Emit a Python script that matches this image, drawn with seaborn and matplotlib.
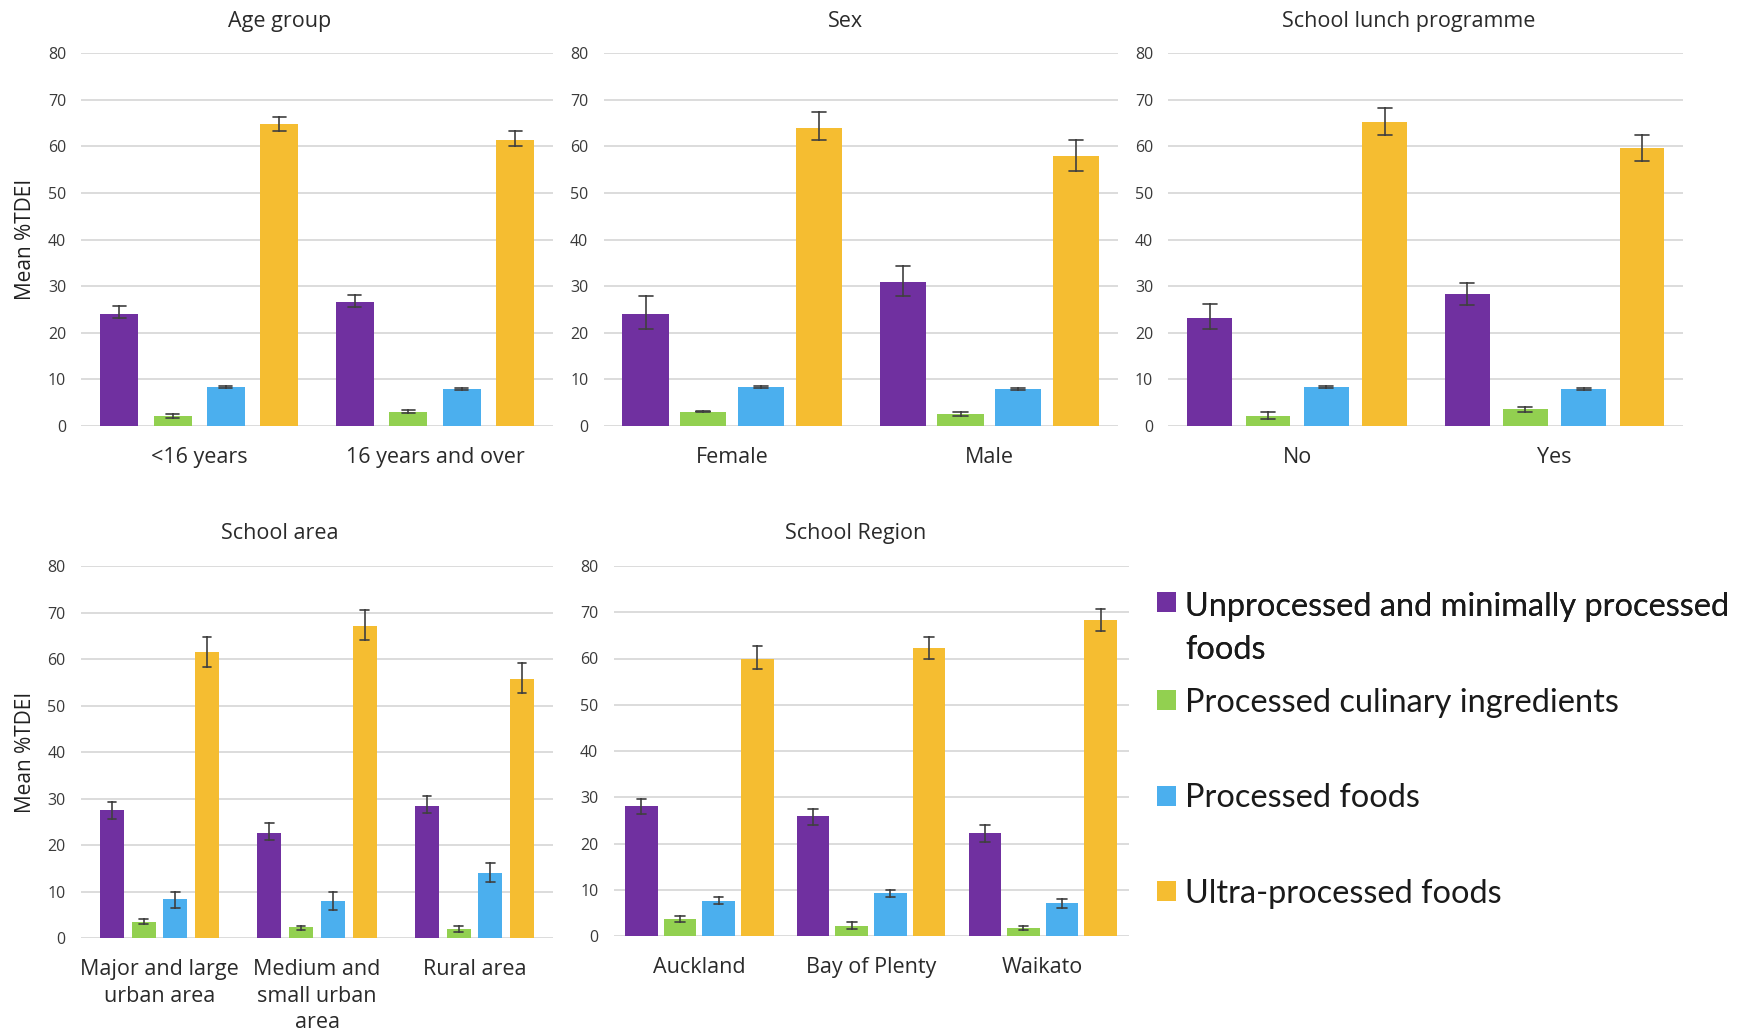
import matplotlib
matplotlib.use("Agg")
import numpy as np
import pandas as pd
import matplotlib.pyplot as plt
import matplotlib.patches as mpatches
from matplotlib.font_manager import FontProperties
import seaborn as sns

# ---------------- data ----------------
series = ["Unprocessed and minimally processed foods",
          "Processed culinary ingredients",
          "Processed foods",
          "Ultra-processed foods"]
legend_labels = ["Unprocessed and minimally processed\nfoods",
                 "Processed culinary ingredients",
                 "Processed foods",
                 "Ultra-processed foods"]
colors = ["#7030A0", "#92D050", "#4BAFEE", "#F5BD31"]

# rows = series (same order as `series`), columns = categories
age_cats = ["<16 years", "16 years and over"]
age_mean = [[24.0, 26.6], [2.2, 3.1], [8.4, 7.9], [64.9, 61.4]]
age_lo   = [[23.1, 25.5], [1.7, 2.7], [8.2, 7.7], [63.4, 60.0]]
age_hi   = [[25.7, 28.2], [2.6, 3.5], [8.6, 8.1], [66.4, 63.4]]

sex_cats = ["Female", "Male"]
sex_mean = [[24.0, 30.9], [3.1, 2.6], [8.4, 7.9], [64.0, 58.0]]
sex_lo   = [[20.8, 27.8], [2.9, 2.1], [8.2, 7.7], [61.3, 54.7]]
sex_hi   = [[27.9, 34.3], [3.3, 3.0], [8.6, 8.1], [67.3, 61.3]]

lunch_cats = ["No", "Yes"]
lunch_mean = [[23.1, 28.4], [2.2, 3.6], [8.4, 7.9], [65.3, 59.7]]
lunch_lo   = [[20.8, 26.0], [1.6, 3.0], [8.2, 7.7], [62.5, 56.8]]
lunch_hi   = [[26.1, 30.8], [3.0, 4.0], [8.6, 8.1], [68.2, 62.5]]

area_cats = ["Major and large urban area", "Medium and small urban area", "Rural area"]
area_ticklabels = ["Major and large\nurban area", "Medium and\nsmall urban\narea", "Rural area"]
area_mean = [[27.6, 22.7, 28.4], [3.6, 2.4, 1.9], [8.5, 8.0, 14.0], [61.5, 67.1, 55.7]]
area_lo   = [[25.6, 21.1, 26.9], [3.1, 1.8, 1.3], [6.5, 6.1, 12.2], [58.2, 64.0, 52.7]]
area_hi   = [[29.2, 24.8, 30.5], [4.1, 2.7, 2.6], [10.0, 10.0, 16.1], [64.8, 70.6, 59.1]]

region_cats = ["Auckland", "Bay of Plenty", "Waikato"]
region_mean = [[28.1, 25.9, 22.3], [3.6, 2.2, 1.8], [7.6, 9.2, 7.1], [60.0, 62.2, 68.3]]
region_lo   = [[26.3, 24.0, 20.4], [3.0, 1.6, 1.3], [6.9, 8.5, 6.1], [57.7, 59.8, 66.0]]
region_hi   = [[29.7, 27.5, 24.1], [4.3, 3.0, 2.2], [8.4, 9.9, 7.9], [62.6, 64.7, 70.8]]

y_ticks = [0, 10, 20, 30, 40, 50, 60, 70, 80]

# ---------------- style ----------------
sns.set_style("white")
plt.rcParams["font.family"] = ["Open Sans", "DejaVu Sans"]

W, H = 1742, 1030
fig = plt.figure(figsize=(W / 100, H / 100), dpi=100)


def px_axes(x0, x1, ytop, ybot):
    return fig.add_axes([x0 / W, 1 - ybot / H, (x1 - x0) / W, (ybot - ytop) / H])


def long_frame(cats, mean, lo, hi):
    rows = []
    for j, s in enumerate(series):
        for i, c in enumerate(cats):
            for v in (lo[j][i], mean[j][i], hi[j][i]):
                rows.append({"category": c, "series": s, "value": v})
    return pd.DataFrame(rows)


panels = [
    dict(title="Age group", cats=age_cats, labels=age_cats, mean=age_mean, lo=age_lo, hi=age_hi,
         box=(81.4, 552.9, 53.3, 426), width=0.906, gap=0.29, title_xy=(280, 27), ylabel=True),
    dict(title="Sex", cats=sex_cats, labels=sex_cats, mean=sex_mean, lo=sex_lo, hi=sex_hi,
         box=(603.6, 1118, 53.3, 426), width=0.898, gap=0.20, title_xy=(845, 27), ylabel=False),
    dict(title="School lunch programme", cats=lunch_cats, labels=lunch_cats, mean=lunch_mean,
         lo=lunch_lo, hi=lunch_hi,
         box=(1168.4, 1683.3, 53.3, 426), width=0.906, gap=0.23, title_xy=(1409, 27), ylabel=False),
    dict(title="School area", cats=area_cats, labels=area_ticklabels, mean=area_mean, lo=area_lo,
         hi=area_hi,
         box=(80.7, 553.3, 566, 938.3), width=0.806, gap=0.24, title_xy=(280, 539), ylabel=True),
    dict(title="School Region", cats=region_cats, labels=region_cats, mean=region_mean,
         lo=region_lo, hi=region_hi,
         box=(613.6, 1128.6, 566, 936), width=0.90, gap=0.155, title_xy=(856, 539), ylabel=False),
]

for p in panels:
    ax = px_axes(*p["box"])
    df = long_frame(p["cats"], p["mean"], p["lo"], p["hi"])
    sns.barplot(data=df, x="category", y="value", hue="series", order=p["cats"],
                hue_order=series, palette=colors, saturation=1, estimator="median",
                errorbar=lambda v: (v.min(), v.max()), capsize=0.22,
                err_kws={"color": "#404040", "linewidth": 1.2},
                width=p["width"], gap=p["gap"], linewidth=0, legend=False, ax=ax)
    ax.set_ylim(0, 80)
    ax.set_xlim(-0.5, len(p["cats"]) - 0.5)
    ax.set_yticks(y_ticks)
    ax.set_yticklabels([str(t) for t in y_ticks])
    ax.set_xticks(range(len(p["cats"])))
    ax.set_xticklabels(p["labels"])
    for t in ax.get_xticklabels():
        t.set_linespacing(1.35)
    ax.tick_params(axis="y", length=0, pad=11, labelsize=11.5, labelcolor="#3a3a3a")
    ax.tick_params(axis="x", length=0, pad=15, labelsize=15.5, labelcolor="#2a2a2a")
    ax.grid(axis="y", color="#D9D9D9", linewidth=1.3)
    ax.set_axisbelow(True)
    for sp in ax.spines.values():
        sp.set_visible(False)
    ax.set_xlabel("")
    if p["ylabel"]:
        ax.set_ylabel("Mean %TDEI", fontsize=15, color="#202020")
        ax.yaxis.set_label_coords(-45 / (p["box"][1] - p["box"][0]), 0.5)
    else:
        ax.set_ylabel("")
    fig.text(p["title_xy"][0] / W, 1 - p["title_xy"][1] / H, p["title"], ha="center",
             va="baseline", fontsize=15.5, color="#2a2a2a")

# ---------------- legend ----------------
handles = [mpatches.Patch(facecolor=c, edgecolor="none") for c in colors]
lprop = FontProperties(family=["Lato", "DejaVu Sans"], size=23.4)
common = dict(loc="upper left", frameon=False, borderpad=0, borderaxespad=0,
              handlelength=0.585, handleheight=0.555, handletextpad=0.28, prop=lprop)

legA = fig.legend(handles[:1], legend_labels[:1], bbox_to_anchor=(1157 / W, 1 - 592 / H), **common)
for t in legA.get_texts():
    t.set_linespacing(1.55)
    t.set_color("#1a1a1a")
try:
    for col in legA._legend_handle_box.get_children():
        for item in col.get_children():
            item.align = "top"
except Exception:
    pass

legB = fig.legend(handles[1:], legend_labels[1:], bbox_to_anchor=(1157 / W, 1 - 687.5 / H),
                  labelspacing=2.02, **common)
for t in legB.get_texts():
    t.set_color("#1a1a1a")
fig.add_artist(legA)

fig.savefig("out.png", dpi=100)
